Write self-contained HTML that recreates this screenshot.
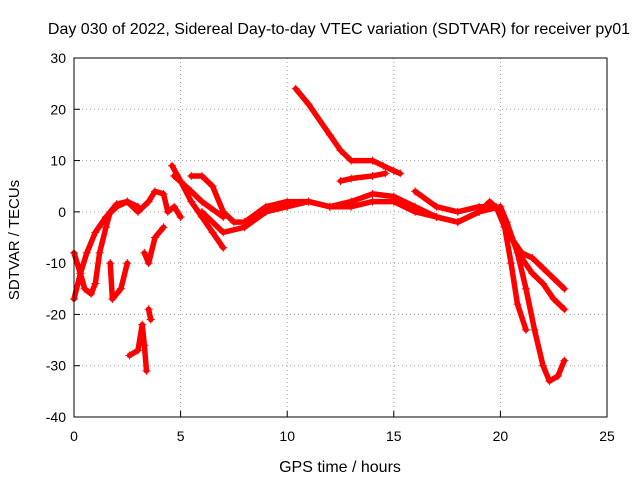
<!DOCTYPE html>
<html><head><meta charset="utf-8"><style>
body{margin:0;background:#fff}
svg{display:block;font-family:"Liberation Sans",sans-serif}
</style></head><body>
<svg id="chart" width="640" height="480">
<rect width="640" height="480" fill="#fff"/>
<text x="339" y="34" font-size="16" text-anchor="middle">Day 030 of 2022, Sidereal Day-to-day VTEC variation (SDTVAR) for receiver py01</text>
<text x="340" y="472" font-size="16" text-anchor="middle">GPS time / hours</text>
<text transform="translate(19,240) rotate(-90)" font-size="15" text-anchor="middle">SDTVAR / TECUs</text>
<g id="grid"></g>
<g id="ticks"></g>
<g id="series"></g>
<rect x="74" y="58" width="533" height="359" fill="none" stroke="#000"/>
</svg>
<script>
const xTicks=[0,5,10,15,20,25];
const yTicks=[-40,-30,-20,-10,0,10,20,30];
const track1=[[0,-17],[0.3,-12],[0.5,-15],[0.8,-16],[1.0,-14],[1.2,-8],[1.5,-3],[1.7,0],[2,1.5],[2.5,2],[3,1]];
const track2=[[0,-8],[0.3,-12],[0.6,-8],[1,-4],[1.5,-1],[2,1],[2.5,2],[3,0],[3.5,2],[3.8,4],[4.2,3.5],[4.4,0],[4.7,1],[5,-1]];
const track3=[[1.7,-10],[1.8,-17],[2.2,-15],[2.5,-10]];
const track4=[[2.6,-28],[3,-27],[3.2,-22],[3.3,-26],[3.4,-31]];
const track5=[[3.5,-19],[3.6,-21]];
const track6=[[3.3,-8],[3.5,-10],[3.8,-5],[4.2,-3]];
const track7=[[4.6,9],[5,6],[5.5,2],[6,-1],[6.5,-4],[7,-7]];
const track8=[[4.7,7],[5.5,4],[6,2],[7,-1]];
const track9=[[5.5,7],[6,7],[6.5,5],[7,0],[7.5,-2],[8,-2],[9,1],[10,2],[11,2],[12,1],[13,1],[14,2],[15,2],[16,0],[17,-1],[18,-2],[19,0],[19.5,2],[20,0],[20.5,-5],[21,-8],[21.5,-9],[22,-11],[22.5,-13],[23,-15]];
const track10=[[10.4,24],[11,21],[12,15],[12.5,12],[13,10],[14,10],[14.5,9],[15,8],[15.3,7.5]];
const track11=[[12.5,6],[13,6.5],[14,7],[14.6,7.5]];
const track12=[[6,0],[7,-4],[8,-3],[9,0],[10,1],[11,2],[12,1],[13,2],[14,3.5],[15,3],[16,1],[17,-1],[18,-2],[19,0],[20,1],[20.3,-2],[20.8,-8],[21.2,-15],[21.6,-23],[22,-30],[22.3,-33],[22.7,-32],[23,-29]];
const track13=[[16,4],[17,1],[18,0],[19,1],[19.8,1],[20.2,-3],[20.5,-10],[20.8,-18],[21.2,-23]];
const track14=[[20,0],[20.5,-5],[21,-9],[21.5,-12],[22,-14],[22.5,-17],[23,-19]];
const tracks=[track1,track2,track3,track4,track5,track6,track7,track8,track9,track10,track11,track12,track13,track14];
const X0=74,X1=607,Y0=417,Y1=58;
const xs=v=>X0+(v-0)/(25-0)*(X1-X0);
const ys=v=>Y0-(v+40)/70*(Y0-Y1);
const NS="http://www.w3.org/2000/svg";
const grid=document.getElementById('grid'),ticks=document.getElementById('ticks'),ser=document.getElementById('series');
function mk(t,a,p){const e=document.createElementNS(NS,t);for(const k in a)e.setAttribute(k,a[k]);p.appendChild(e);return e;}
xTicks.forEach(v=>{const x=xs(v);
 if(v>0&&v<25){const g=mk('line',{x1:x,x2:x,y1:Y1,y2:Y0,stroke:'#a0a0a0','stroke-dasharray':'1,3'},grid);
 }
 const t=mk('line',{x1:x,x2:x,y1:Y0,y2:Y0-6,stroke:'#000'},ticks);
 
 const l=mk('text',{x:x,y:Y0+24,'font-size':14,'text-anchor':'middle'},ticks);l.textContent=v;
 });
yTicks.forEach(v=>{const y=ys(v);
 if(v>-40&&v<30){const g=mk('line',{x1:X0,x2:X1,y1:y,y2:y,stroke:'#a0a0a0','stroke-dasharray':'1,3'},grid);
 }
 const t=mk('line',{x1:X0,x2:X0+6,y1:y,y2:y,stroke:'#000'},ticks);
 
 const l=mk('text',{x:X0-8,y:y+5,'font-size':14,'text-anchor':'end'},ticks);l.textContent=v;
 });
tracks.forEach((tr,i)=>{
 const pl=mk('polyline',{points:tr.map(p=>xs(p[0])+','+ys(p[1])).join(' '),fill:'none',stroke:'#f00','stroke-width':5.5,'stroke-linejoin':'round','stroke-linecap':'round'},ser);
 
 
 tr.forEach(p=>{const x=xs(p[0]),y=ys(p[1]);
  const m=mk('path',{d:`M${x-4},${y}H${x+4}M${x},${y-4}V${y+4}`,stroke:'#f00','stroke-width':1},ser);
  
  });
});
</script>
</body></html>
